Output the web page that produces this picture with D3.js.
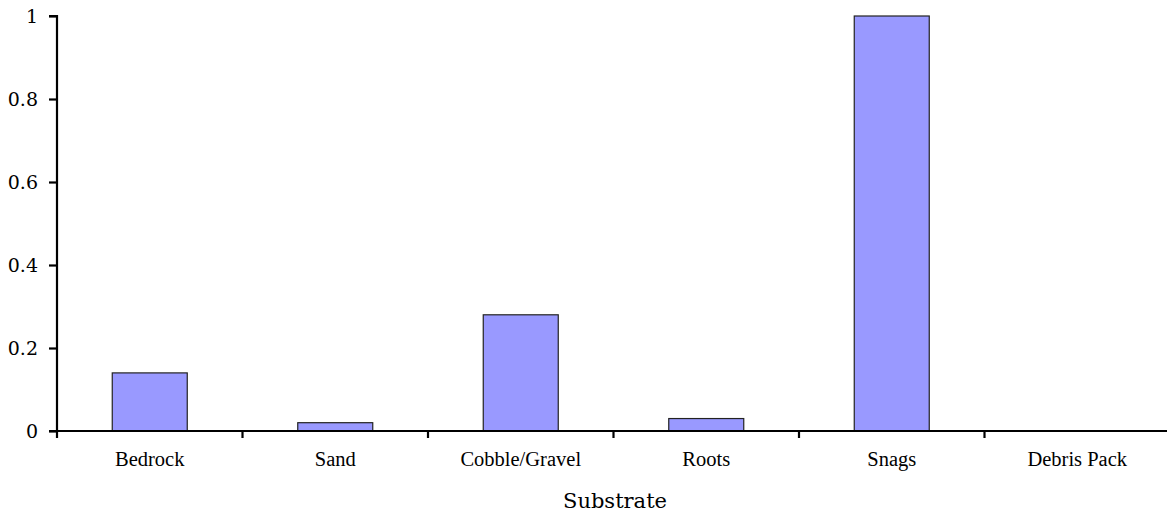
<!DOCTYPE html>
<html><head><meta charset="utf-8">
<script src="https://cdn.jsdelivr.net/npm/d3@7"></script>
<style>body{margin:0;background:#fff}svg{display:block}</style>
</head><body><svg id="c" width="1167" height="512"></svg>
<script>
const categories = ["Bedrock","Sand","Cobble/Gravel","Roots","Snags","Debris Pack"];
const values = [0.14, 0.02, 0.28, 0.03, 1.0, 0];
const yTicks = [0, 0.2, 0.4, 0.6, 0.8, 1];
const yTickLabels = ["0","0.2","0.4","0.6","0.8","1"];
const xTitle = "Substrate";

(function(){
const svg = d3.select("#c");
const mL = 57, mR = 1170, mT = 16, mB = 431;
const x = d3.scaleBand().domain(categories).range([mL, mR]).paddingInner(0.5957).paddingOuter(0.29785);
const xOuter = d3.scaleBand().domain(categories).range([mL, mR]);
const y = d3.scaleLinear().domain([0, 1]).range([mB, mT]);

svg.append("g").selectAll("rect").data(categories.map((c,i)=>({c,v:values[i]})).filter(d=>d.v>0))
  .join("rect")
  .attr("x", d => x(d.c))
  .attr("width", x.bandwidth())
  .attr("y", d => y(d.v))
  .attr("height", d => y(0) - y(d.v))
  .attr("fill", "#9999ff").attr("stroke", "#222").attr("stroke-width", 1.2);

const ya = svg.append("g").attr("transform", `translate(${mL},0)`)
  .call(d3.axisLeft(y).tickValues(yTicks).tickFormat((d,i)=>yTickLabels[i]).tickSize(8).tickPadding(11));
ya.select(".domain").attr("stroke","#000").attr("stroke-width",2.2).attr("d", `M-8,${mT}H0V${mB}`);
ya.selectAll(".tick line").attr("stroke","#000").attr("stroke-width",2.2);
ya.selectAll("text").attr("font-family","'DejaVu Serif', serif").attr("font-size",19).attr("fill","#000").attr("dy","0.36em");

const boundaries = categories.map(c => xOuter(c)).concat([mR]);
const xa = svg.append("g");
xa.append("line").attr("x1", mL-8).attr("x2", mR).attr("y1", mB).attr("y2", mB).attr("stroke","#000").attr("stroke-width",2.2);
xa.selectAll("line.t").data(boundaries).join("line").attr("class","t")
  .attr("x1", d=>d).attr("x2", d=>d).attr("y1", mB).attr("y2", mB+7).attr("stroke","#000").attr("stroke-width",2.2);
xa.selectAll("text").data(categories).join("text")
  .attr("x", d => xOuter(d) + xOuter.bandwidth()/2).attr("y", 466)
  .attr("text-anchor","middle").attr("font-family","'Liberation Serif', serif").attr("font-size",20.5).attr("fill","#000")
  .text(d=>d);

svg.append("text").attr("x", 615).attr("y", 508).attr("text-anchor","middle")
  .attr("font-family","'DejaVu Serif', serif").attr("font-size",21).attr("fill","#000").text(xTitle);
})();
</script></body></html>
